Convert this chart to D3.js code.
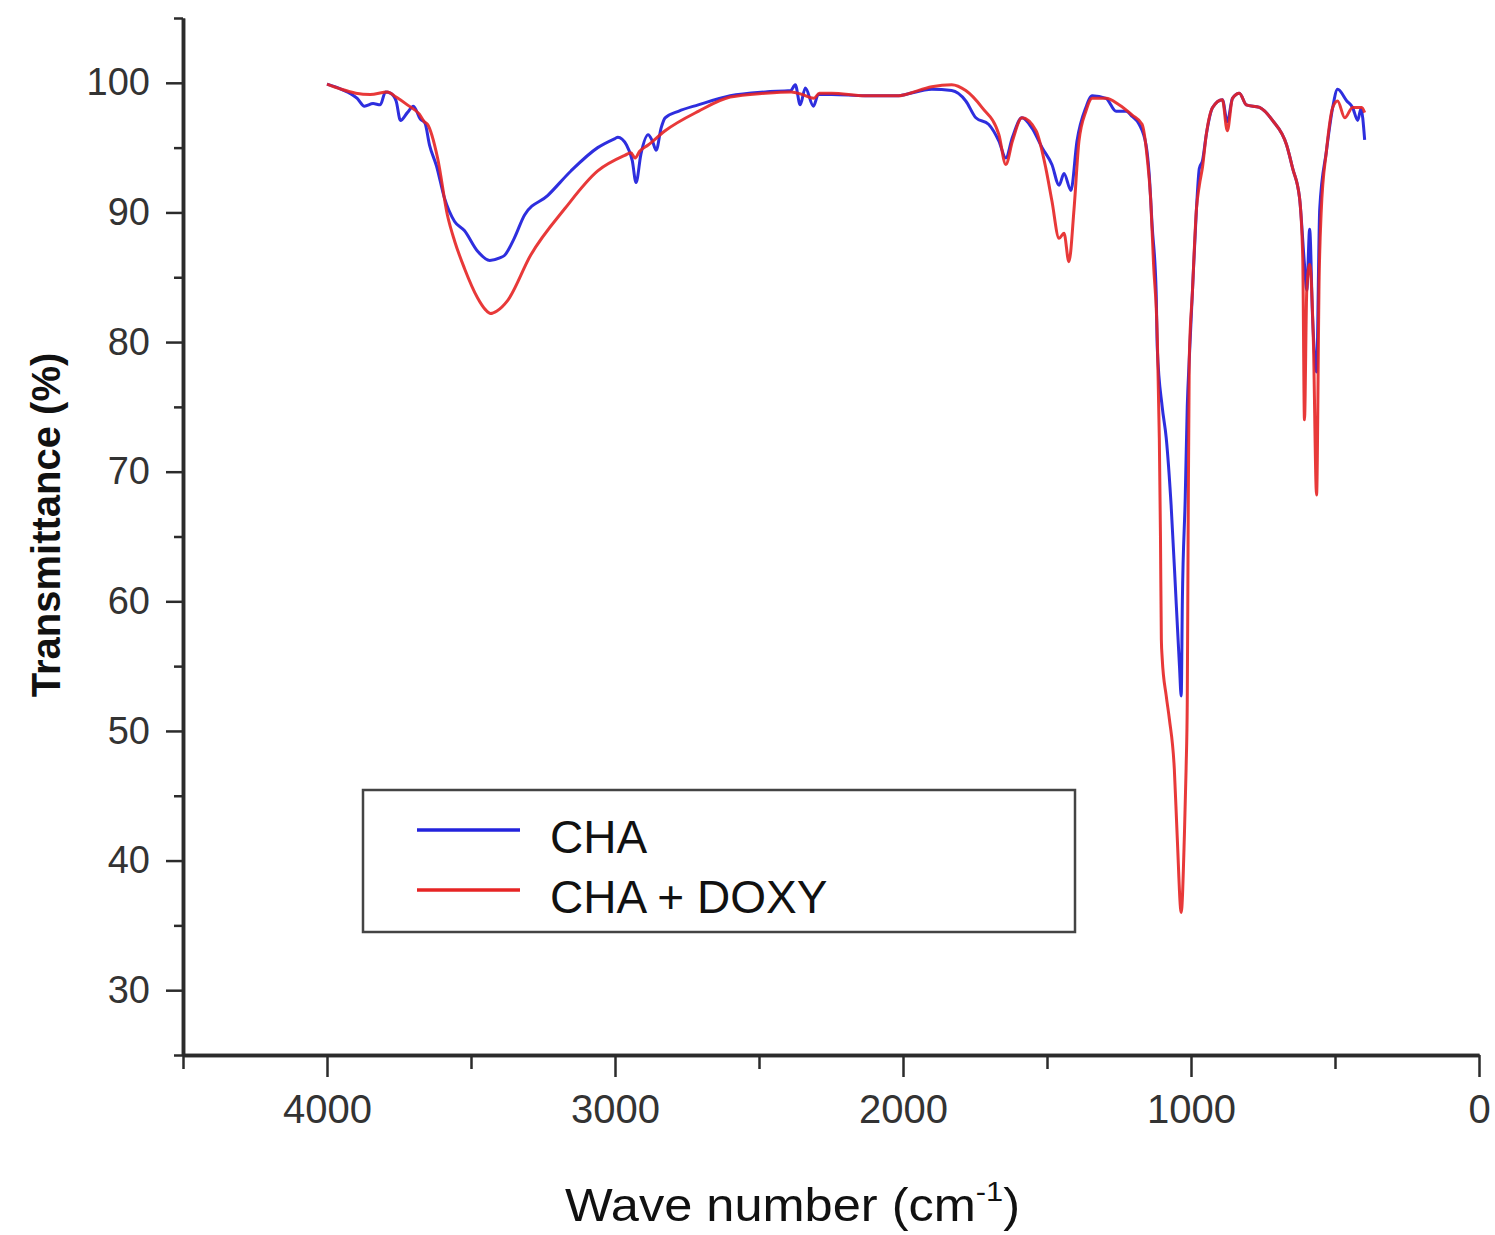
<!DOCTYPE html>
<html>
<head>
<meta charset="utf-8">
<script src="https://cdn.jsdelivr.net/npm/d3@7"></script>
<style>
  html, body { margin: 0; padding: 0; background: #fff; }
  svg { display: block; font-family: "Liberation Sans", Arial, sans-serif; }
</style>
</head>
<body>
<div id="chart"></div>
<script>
// FTIR spectra (wave number cm-1 -> transmittance %)
const chaWave = [4000, 3950, 3895, 3870, 3840, 3815, 3797, 3780, 3760, 3745, 3721, 3700, 3676, 3660, 3644,
  3620, 3592, 3557, 3523, 3477, 3435, 3400, 3383, 3350, 3314, 3234, 3153, 3060, 3000, 2990, 2960, 2940,
  2927, 2910, 2885, 2870, 2857, 2840, 2826, 2780, 2711, 2600, 2478, 2390, 2374, 2357, 2339, 2311, 2294,
  2248, 2131, 2015, 1991, 1900, 1831, 1782, 1747, 1703, 1667, 1643, 1620, 1587, 1552, 1517, 1483, 1458,
  1441, 1417, 1396, 1365, 1343, 1295, 1260, 1225, 1204, 1180, 1156, 1145, 1135, 1121, 1117, 1100, 1086,
  1069, 1051, 1040, 1034, 1030, 1020, 1013, 1006, 995, 981, 971, 960, 947, 925, 891, 874, 856, 832, 808,
  762, 717, 668, 647, 623, 606, 598, 588, 578, 564, 553, 530, 508, 491, 459, 439, 421, 410, 397];
const chaT = [99.9, 99.5, 98.8, 98.2, 98.4, 98.3, 99.3, 99.2, 98.6, 97.1, 97.7, 98.2, 97.2, 96.9, 95.2,
  93.6, 91.1, 89.3, 88.6, 87.0, 86.3, 86.5, 86.7, 88.0, 89.8, 91.3, 93.2, 95.0, 95.7, 95.8, 95.2, 94.0,
  92.3, 94.5, 96.0, 95.5, 94.8, 96.5, 97.3, 97.8, 98.3, 99.0, 99.3, 99.4, 99.85, 98.3, 99.6, 98.2, 99.1,
  99.1, 99.0, 99.0, 99.1, 99.5, 99.4, 98.6, 97.3, 96.8, 95.5, 94.2, 95.8, 97.3, 96.5, 95.0, 93.7, 92.1,
  93.0, 91.7, 95.5, 98.1, 99.0, 98.8, 97.8, 97.8, 97.4, 96.8, 95.2, 92.9, 89.0, 83.9, 79.5, 75.0, 72.6,
  67.4, 59.7, 55.0, 52.7, 60.0, 68.0, 75.0, 78.7, 83.9, 90.3, 93.4, 94.0, 96.0, 98.1, 98.7, 97.0, 98.8, 99.2, 98.3,
  98.1, 97.1, 95.2, 93.4, 91.1, 86.0, 84.0, 88.7, 82.0, 77.7, 90.3, 94.7, 98.1, 99.5, 98.6, 98.1, 97.1, 98.0, 95.6];

const doxyWave = [4000, 3950, 3900, 3850, 3790, 3760, 3721, 3680, 3662, 3651, 3616, 3582, 3557, 3523, 3477,
  3450, 3432, 3410, 3373, 3293, 3174, 3060, 2966, 2945, 2930, 2915, 2885, 2826, 2711, 2600, 2478, 2388,
  2350, 2310, 2290, 2248, 2131, 2015, 1991, 1900, 1831, 1782, 1726, 1667, 1643, 1620, 1587, 1538, 1504,
  1483, 1458, 1441, 1424, 1406, 1389, 1365, 1343, 1295, 1250, 1204, 1170, 1152, 1140, 1130, 1117, 1110,
  1106, 1103, 1100, 1086, 1075, 1058, 1048, 1034, 1023, 1017, 1013, 1010, 1006, 995, 981, 971, 960, 947,
  925, 891, 874, 856, 832, 808, 762, 717, 668, 647, 623, 612, 606, 598, 588, 575, 564, 555, 548, 530, 508,
  491, 466, 439, 407, 397];
const doxyT = [99.9, 99.5, 99.2, 99.1, 99.3, 98.9, 98.3, 97.6, 97.0, 96.8, 94.2, 89.8, 87.8, 85.7, 83.4,
  82.5, 82.2, 82.4, 83.2, 86.7, 90.3, 93.2, 94.4, 94.6, 94.2, 94.7, 95.2, 96.3, 97.8, 98.9, 99.2, 99.3,
  99.1, 98.8, 99.2, 99.2, 99.0, 99.0, 99.1, 99.7, 99.85, 99.4, 98.1, 96.0, 93.7, 95.5, 97.3, 96.3, 93.4,
  90.9, 88.0, 88.4, 86.2, 90.3, 95.5, 97.8, 98.8, 98.8, 98.3, 97.5, 96.8, 94.2, 91.0, 86.0, 80.3, 72.6,
  65.0, 57.1, 55.6, 52.7, 50.9, 47.1, 41.9, 36.0, 41.9, 47.1, 52.2, 65.0, 78.7, 83.9, 90.3, 92.1, 93.5, 96.0,
  98.1, 98.7, 96.3, 98.8, 99.2, 98.3, 98.1, 97.1, 95.2, 93.4, 91.1, 86.5, 74.0, 84.0, 86.0, 80.0, 68.2, 85.0, 90.0, 94.7, 98.1,
  98.6, 97.3, 98.1, 98.1, 97.7];

const seriesNames  = ["CHA", "CHA + DOXY"];
const seriesColors = ["#2323dc", "#e62424"];

const xMajor = [4000, 3000, 2000, 1000, 0];
const xMinor = [4500, 3500, 2500, 1500, 500];
const yMajor = [30, 40, 50, 60, 70, 80, 90, 100];
const yMinor = [25, 35, 45, 55, 65, 75, 85, 95, 105];

const W = 1495, H = 1235;
const M = { left: 183, right: 1479, top: 18, bottom: 1055 };
const AXIS = "#2b2b2b";

const svg = d3.select("#chart").append("svg")
  .attr("width", W).attr("height", H);

const x = d3.scaleLinear().domain([4500, 0]).range([M.left, M.right]);
const y = d3.scaleLinear().domain([25, 105]).range([M.bottom, M.top]);

// ── spectra ──
const line = d3.line()
  .x(d => x(d[0])).y(d => y(d[1]))
  .curve(d3.curveMonotoneX);

const series = [
  d3.zip(chaWave, chaT),
  d3.zip(doxyWave, doxyT),
];

const lineG = svg.append("g");
series.forEach((pts, i) => {
  lineG.append("path")
    .datum(pts)
    .attr("d", line)
    .attr("fill", "none")
    .attr("stroke", seriesColors[i])
    .attr("stroke-width", 3)
    .attr("stroke-linejoin", "round")
    .attr("opacity", i === 0 ? 0.95 : 0.9);
});
// red drawn last: it sits on top of the blue trace in the reference
lineG.selectAll("path").filter((d, i) => i === 1).raise();

// ── axes ──
function styleAxis(g) {
  g.select(".domain").attr("stroke", AXIS).attr("stroke-width", 3.5);
  g.selectAll(".tick line").attr("stroke", AXIS).attr("stroke-width", 2.5);
}

const xAxisMinor = svg.append("g")
  .attr("transform", `translate(0,${M.bottom})`)
  .call(d3.axisBottom(x).tickValues(xMinor).tickSize(14).tickSizeOuter(0).tickFormat(""));
styleAxis(xAxisMinor);

const xAxis = svg.append("g")
  .attr("transform", `translate(0,${M.bottom})`)
  .call(d3.axisBottom(x).tickValues(xMajor).tickSize(22).tickSizeOuter(0).tickPadding(18).tickFormat(d3.format("d")));
styleAxis(xAxis);
xAxis.selectAll("text")
  .attr("font-size", 40)
  .attr("fill", "#333")
  .attr("font-family", "'Liberation Sans', Arial, sans-serif");

const yAxisMinor = svg.append("g")
  .attr("transform", `translate(${M.left},0)`)
  .call(d3.axisLeft(y).tickValues(yMinor).tickSize(9).tickSizeOuter(0).tickFormat(""));
styleAxis(yAxisMinor);

const yAxis = svg.append("g")
  .attr("transform", `translate(${M.left},0)`)
  .call(d3.axisLeft(y).tickValues(yMajor).tickSize(17).tickSizeOuter(0).tickPadding(16).tickFormat(d3.format("d")));
styleAxis(yAxis);
yAxis.selectAll("text")
  .attr("font-size", 38)
  .attr("fill", "#333")
  .attr("font-family", "'Liberation Sans', Arial, sans-serif");

// ── axis titles ──
svg.append("text")
  .attr("transform", "translate(60,525) rotate(-90)")
  .attr("text-anchor", "middle")
  .attr("font-size", 40)
  .attr("font-weight", "bold")
  .attr("fill", "#111")
  .text("Transmittance (%)");

const xt = svg.append("text")
  .attr("x", 565).attr("y", 1221)
  .attr("font-size", 46)
  .attr("fill", "#111")
  .attr("textLength", 455)
  .attr("lengthAdjust", "spacingAndGlyphs");
xt.append("tspan").text("Wave number (cm");
xt.append("tspan").attr("font-size", 28).attr("dy", -20).text("-1");
xt.append("tspan").attr("dy", 20).text(")");

// ── legend ──
const leg = svg.append("g");
leg.append("rect")
  .attr("x", 363).attr("y", 790).attr("width", 712).attr("height", 142)
  .attr("fill", "#fff").attr("stroke", "#444").attr("stroke-width", 2.5);

const legY = [830, 890];
seriesNames.forEach((name, i) => {
  leg.append("line")
    .attr("x1", 417).attr("x2", 520)
    .attr("y1", legY[i]).attr("y2", legY[i])
    .attr("stroke", seriesColors[i]).attr("stroke-width", 3.5);
  leg.append("text")
    .attr("x", 550).attr("y", legY[i] + 23)
    .attr("font-size", 46)
    .attr("fill", "#111")
    .text(name);
});
</script>
</body>
</html>
